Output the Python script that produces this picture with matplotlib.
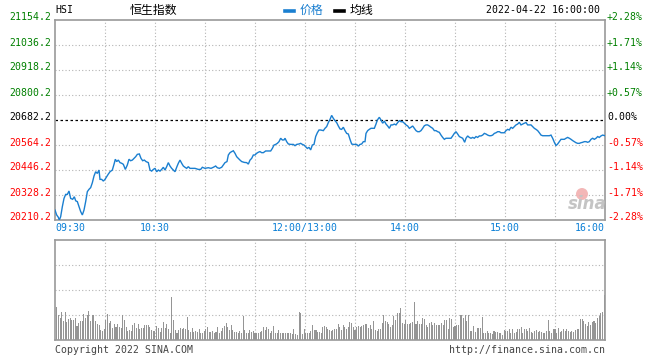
import numpy as np
import matplotlib
matplotlib.use("Agg")
import matplotlib.pyplot as plt
from matplotlib.lines import Line2D
from matplotlib.transforms import blended_transform_factory, ScaledTranslation
from matplotlib.patches import Ellipse

# ---------------- data ----------------
prev_close = 20682.2
price_ticks = [21154.2, 21036.2, 20918.2, 20800.2, 20682.2, 20564.2, 20446.2, 20328.2, 20210.2]
pct_labels = ["+2.28%", "+1.71%", "+1.14%", "+0.57%", "0.00%", "-0.57%", "-1.14%", "-1.71%", "-2.28%"]
time_ticks = [0, 60, 150, 210, 270, 330]
time_labels = ["09:30", "10:30", "12:00/13:00", "14:00", "15:00", "16:00"]

# minutes on the trading-time axis (lunch removed), 0 = 09:30, 330 = 16:00
minutes = [
    0, 1, 2, 2.6, 3.4, 4.4, 5.4, 6.4, 7.4, 8.4, 9.4, 10.6, 11.6, 12.4, 13.4, 14.4, 15.4, 16.4, 17.4, 18.4,
    19.4, 20.4, 21.4, 22.4, 23.4, 24.4, 25.4, 26.4, 27, 28, 29, 30, 31, 32, 33, 34.4, 35.4, 36.2, 37, 38,
    39, 40, 41, 42.2, 43.4, 44.4, 45.4, 46.4, 47.4, 48.4, 49.4, 50.6, 51.6, 52.6, 53.6, 54.6, 56, 57, 58, 59,
    60, 61, 62, 63, 64, 65, 66, 67, 68, 69, 70, 71, 72, 73, 74, 75, 76, 77, 78, 79, 80, 81,
    82, 84, 86, 87.4, 88.4, 90, 92, 93.6, 95, 96.4, 97.4, 98.6, 100, 101, 102, 103.2, 104, 105, 106, 107,
    108, 109, 110, 111, 112, 113.6, 115, 116, 117, 118, 119, 120, 121, 122, 123, 124, 125, 126.4, 128, 129.4,
    130.4, 131.4, 132.4, 133.4, 134.4, 135.4, 136.4, 137.4, 138, 139, 140, 141.4, 143, 144, 145, 146.4, 147.4, 148.4, 149.4, 150.4,
    151.4, 152.4, 153.4, 154.4, 155.4, 156.4, 157.4, 158.4, 159.4,
    161, 162, 163, 164, 165, 166, 167, 168, 169, 170, 171, 172, 173, 174, 175, 176, 177, 178, 179, 180,
    181, 182, 183, 184, 185, 186, 186.6, 187.6, 188.6, 189.6, 190.6, 191.6, 192.6, 193.4, 194.6, 195.6, 196.6, 197.6, 198.6, 199.6,
    200.6, 201.6, 202.6, 203.6, 204.6, 205.6, 206.6, 207.6, 208.6, 209.6, 210.6, 211.6, 212.6, 213.6, 214.6, 215.6, 216.6, 217.6, 218.6, 219.6,
    220.6, 221.6, 222.6, 223.6, 224.6, 225.6, 226.6, 227.6, 228.6, 229.6, 230.6, 231.6, 232.6, 233.6, 234.6, 235.6, 236.6, 237.6, 238.6, 239.6,
    240.6, 241.6, 242.6, 243.6, 244.6,
    245.8, 246.6, 247.6, 248.6, 249.6, 250.6, 251.6, 252.6, 253.6, 254.6, 255.6, 256.6, 257.6, 258.6, 259.6, 260.6, 261.6, 262.6, 263.6, 264.6,
    265.6, 266.6, 267.6, 268.6, 269.6, 270.6, 271.6, 272.6, 273.6, 274.6, 275.6, 276.6, 277.6, 278.6, 279.6, 280.6, 281.6, 282.6, 283.6, 284.6,
    285.6, 286.6, 287.6, 288.6, 289.6, 290.6, 291.6, 292.6, 293.6, 294.6, 295.6, 296.6, 297.6, 298.6, 299.6, 300.6, 301.6, 302.6, 303.6, 304.6,
    305.6, 306.6, 307.6, 308.6, 309.6, 310.6, 311.6, 312.6, 313.6, 314.6, 315.6, 316.6, 317.6, 318.6, 319.6, 320.6, 321.6, 322.6, 323.6, 324.6,
    325.6, 326.6, 327.6, 328.6, 330,
]
prices = [
    20257, 20234, 20223, 20210, 20226, 20273, 20312, 20331, 20331, 20347, 20312, 20308, 20320, 20301, 20297, 20273, 20250, 20234, 20257, 20297,
    20344, 20355, 20363, 20386, 20418, 20438, 20430, 20446, 20402, 20402, 20394, 20402, 20415, 20427, 20438, 20446, 20473, 20497, 20486, 20493,
    20481, 20478, 20473, 20449, 20470, 20497, 20490, 20493, 20501, 20509, 20520, 20522, 20501, 20490, 20493, 20486, 20481, 20446, 20441, 20449,
    20454, 20438, 20446, 20441, 20449, 20459, 20446, 20462, 20481, 20465, 20454, 20446, 20438, 20459, 20478, 20493, 20478, 20465, 20459, 20454, 20462, 20454,
    20454, 20454, 20449, 20449, 20459, 20454, 20457, 20454, 20459, 20465, 20457, 20454, 20459, 20470, 20481, 20486, 20517, 20528, 20533, 20537,
    20525, 20509, 20501, 20493, 20486, 20482, 20481, 20474, 20493, 20501, 20517, 20517, 20525, 20530, 20533, 20528, 20528, 20536, 20536, 20536,
    20548, 20564, 20567, 20572, 20580, 20596, 20588, 20588, 20596, 20580, 20569, 20567, 20567, 20561, 20567, 20569, 20572, 20567, 20564, 20556,
    20548, 20553, 20541, 20564, 20567, 20604, 20622, 20635, 20635,
    20632, 20643, 20651, 20670, 20685, 20704, 20690, 20679, 20670, 20654, 20640, 20638, 20648, 20632, 20619, 20616, 20591, 20569, 20567, 20567,
    20567, 20559, 20567, 20569, 20580, 20580, 20619, 20632, 20638, 20643, 20643, 20643, 20663, 20682, 20695, 20682, 20667, 20677, 20663, 20654,
    20643, 20659, 20659, 20663, 20659, 20670, 20679, 20674, 20674, 20667, 20659, 20654, 20643, 20648, 20654, 20643, 20632, 20627, 20627, 20632,
    20643, 20655, 20659, 20659, 20654, 20648, 20643, 20632, 20632, 20627, 20624, 20611, 20600, 20591, 20596, 20596, 20596, 20596, 20607, 20619,
    20627, 20616, 20604, 20600, 20596,
    20577, 20596, 20607, 20600, 20596, 20600, 20596, 20604, 20600, 20607, 20607, 20611, 20619, 20616, 20611, 20608, 20608, 20611, 20619, 20622,
    20627, 20627, 20622, 20622, 20622, 20632, 20638, 20635, 20648, 20643, 20651, 20659, 20663, 20671, 20659, 20663, 20667, 20670, 20659, 20659,
    20659, 20651, 20643, 20638, 20632, 20622, 20611, 20608, 20608, 20608, 20608, 20608, 20611, 20596, 20577, 20561, 20569, 20580, 20591, 20591,
    20591, 20596, 20600, 20596, 20591, 20585, 20580, 20575, 20572, 20572, 20575, 20577, 20580, 20580, 20577, 20580, 20591, 20596, 20591, 20596,
    20604, 20600, 20607, 20611, 20608,
]

# per-minute volume (relative units, panel max = 100)
volume = [
    33, 25, 22, 28, 19, 28, 18, 21, 22, 20, 20, 22, 14, 17, 19, 19, 26, 22, 25, 29,
    19, 25, 25, 19, 16, 15, 10, 9, 11, 20, 26, 17, 19, 12, 16, 13, 16, 13, 12, 25,
    20, 13, 9, 10, 9, 15, 17, 12, 16, 11, 12, 12, 15, 15, 15, 13, 10, 9, 9, 14,
    12, 8, 12, 18, 12, 16, 11, 7, 43, 20, 10, 7, 10, 12, 11, 12, 11, 23, 10, 8,
    12, 8, 9, 8, 11, 7, 7, 9, 11, 13, 8, 8, 9, 7, 8, 13, 7, 9, 12, 14,
    17, 13, 10, 15, 10, 8, 8, 7, 9, 7, 24, 10, 7, 7, 10, 8, 9, 7, 7, 7,
    8, 9, 13, 10, 13, 11, 7, 9, 14, 7, 7, 10, 7, 7, 7, 7, 7, 7, 7, 6,
    11, 6, 5, 28, 27, 6, 11, 7, 7, 7, 9, 15, 10, 10, 8, 8, 7, 13,
    14, 13, 11, 10, 9, 10, 11, 11, 16, 13, 10, 15, 13, 11, 13, 18, 17, 13, 10, 13,
    14, 13, 14, 15, 16, 16, 12, 15, 11, 19, 10, 9, 11, 11, 17, 25, 19, 18, 16, 13,
    15, 24, 20, 27, 27, 32, 17, 16, 20, 16, 16, 17, 18, 38, 16, 19, 16, 16, 22, 21,
    15, 13, 17, 18, 15, 17, 15, 15, 15, 17, 15, 20, 20, 11, 22, 21, 13, 14, 15, 15,
    25, 25, 22, 25, 19, 25, 9, 9, 14, 8, 12, 12, 12, 23, 7, 7, 9, 7, 7, 6,
    9, 8, 8, 7, 7, 5, 10, 9, 9, 11, 7, 11, 7, 8, 11, 11, 13, 7, 11, 11,
    9, 12, 8, 7, 9, 10, 8, 9, 8, 7, 7, 9, 20, 9, 7, 11, 11, 7, 12, 8,
    9, 11, 9, 11, 9, 8, 9, 8, 10, 11, 11, 21, 21, 19, 16, 14, 18, 15, 18, 19,
    17, 22, 24, 27, 28, 45,
]

# ---------------- style ----------------
BLUE = "#1a7fd0"
TBLUE = "#0a7fd6"
GREEN = "#008000"
RED = "#ff0000"
GRID = "#b4b4b4"
SPINE = "#9a9a9a"
MONO = "DejaVu Sans Mono"
FS = 7.1

plt.rcParams["font.family"] = ["DejaVu Sans Mono", "Noto Sans CJK SC"]

W, H = 660, 360
fig = plt.figure(figsize=(W / 100, H / 100), dpi=100)
fig.patch.set_facecolor("white")

def fx(px):
    return px / W

def fy(py):
    return 1 - py / H

ax = fig.add_axes([fx(55), fy(220), fx(550), 200 / H])
axv = fig.add_axes([fx(55), fy(340), fx(550), 100 / H])

for a in (ax, axv):
    a.set_xlim(0, 330)
    a.set_xticks([])
    a.set_yticks([])
    for s in a.spines.values():
        s.set_color(SPINE)
        s.set_linewidth(1.2)
    for m in range(30, 330, 30):
        a.axvline(m, color=GRID, lw=0.8, ls=(0, (1, 2)), zorder=0)

# main panel
ymin, ymax = price_ticks[-1], price_ticks[0]
ax.set_ylim(ymin, ymax)
for p in price_ticks[1:-1]:
    if p == prev_close:
        ax.axhline(p, color="black", lw=0.9, ls=(0, (2, 2)), zorder=1)
    else:
        ax.axhline(p, color=GRID, lw=0.8, ls=(0, (1, 2)), zorder=0)

ax.plot(minutes, prices, color=BLUE, lw=1.0, zorder=3, solid_joinstyle="miter")

left_tr = blended_transform_factory(ax.transAxes, ax.transData) + ScaledTranslation(0, 2.5 / 100, fig.dpi_scale_trans)
for p, pl in zip(price_ticks, pct_labels):
    if p > prev_close + 1:
        c = GREEN
    elif abs(p - prev_close) < 1:
        c = "black"
    else:
        c = RED
    ax.text(-4 / 550, p, f"{p:.1f}", transform=left_tr, ha="right", va="center",
            fontsize=FS, color=c, family=MONO)
    ax.text(1 + 2 / 550, p, pl, transform=left_tr, ha="left", va="center",
            fontsize=FS, color=c, family=MONO)

bot_tr = blended_transform_factory(ax.transData, ax.transAxes)
for t, lab in zip(time_ticks, time_labels):
    ha = "left" if t == 0 else ("right" if t == 330 else "center")
    ax.text(t, -3 / 200, lab, transform=bot_tr, ha=ha, va="top",
            fontsize=FS, color=TBLUE, family=MONO)

# volume panel
axv.set_ylim(0, 100)
for v in (25, 50, 75):
    axv.axhline(v, color=GRID, lw=0.8, ls=(0, (1, 2)), zorder=0)
vx = np.linspace(1, 329.5, len(volume))
axv.bar(vx, volume, width=0.62, color="#959595", edgecolor="none", zorder=2,
        antialiased=False)

# header
fig.text(fx(55), fy(10), "HSI", ha="left", va="center", fontsize=FS, family=MONO)
fig.text(fx(130), fy(10), "恒生指数", ha="left", va="center", fontsize=8.6,
         family=["Noto Sans CJK SC", "DejaVu Sans"])
fig.add_artist(Line2D([fx(285), fx(294)], [fy(11), fy(11)], color=BLUE, lw=2.6))
fig.text(fx(300), fy(10), "价格", ha="left", va="center", fontsize=8.6, color=BLUE,
         family=["Noto Sans CJK SC", "DejaVu Sans"])
fig.add_artist(Line2D([fx(335), fx(344)], [fy(11), fy(11)], color="black", lw=2.6))
fig.text(fx(350), fy(10), "均线", ha="left", va="center", fontsize=8.6,
         family=["Noto Sans CJK SC", "DejaVu Sans"])
fig.text(fx(600), fy(10), "2022-04-22 16:00:00", ha="right", va="center", fontsize=FS, family=MONO)

# watermark
fig.add_artist(Ellipse((fx(582), fy(194)), 12 / W, 12 / H, transform=fig.transFigure,
                       facecolor="#f2b0b0", edgecolor="none", alpha=0.9))
fig.text(fx(587), fy(204), "sina", ha="center", va="center", fontsize=12,
         style="italic", weight="bold", color="#c4c4c4", family="DejaVu Sans")

# footer
fig.text(fx(55), fy(350), "Copyright 2022 SINA.COM", ha="left", va="center",
         fontsize=FS, color="#444444", family=MONO)
fig.text(fx(605), fy(350), "http://finance.sina.com.cn", ha="right", va="center",
         fontsize=FS, color="#444444", family=MONO)

fig.savefig("out.png", dpi=100, facecolor="white")
